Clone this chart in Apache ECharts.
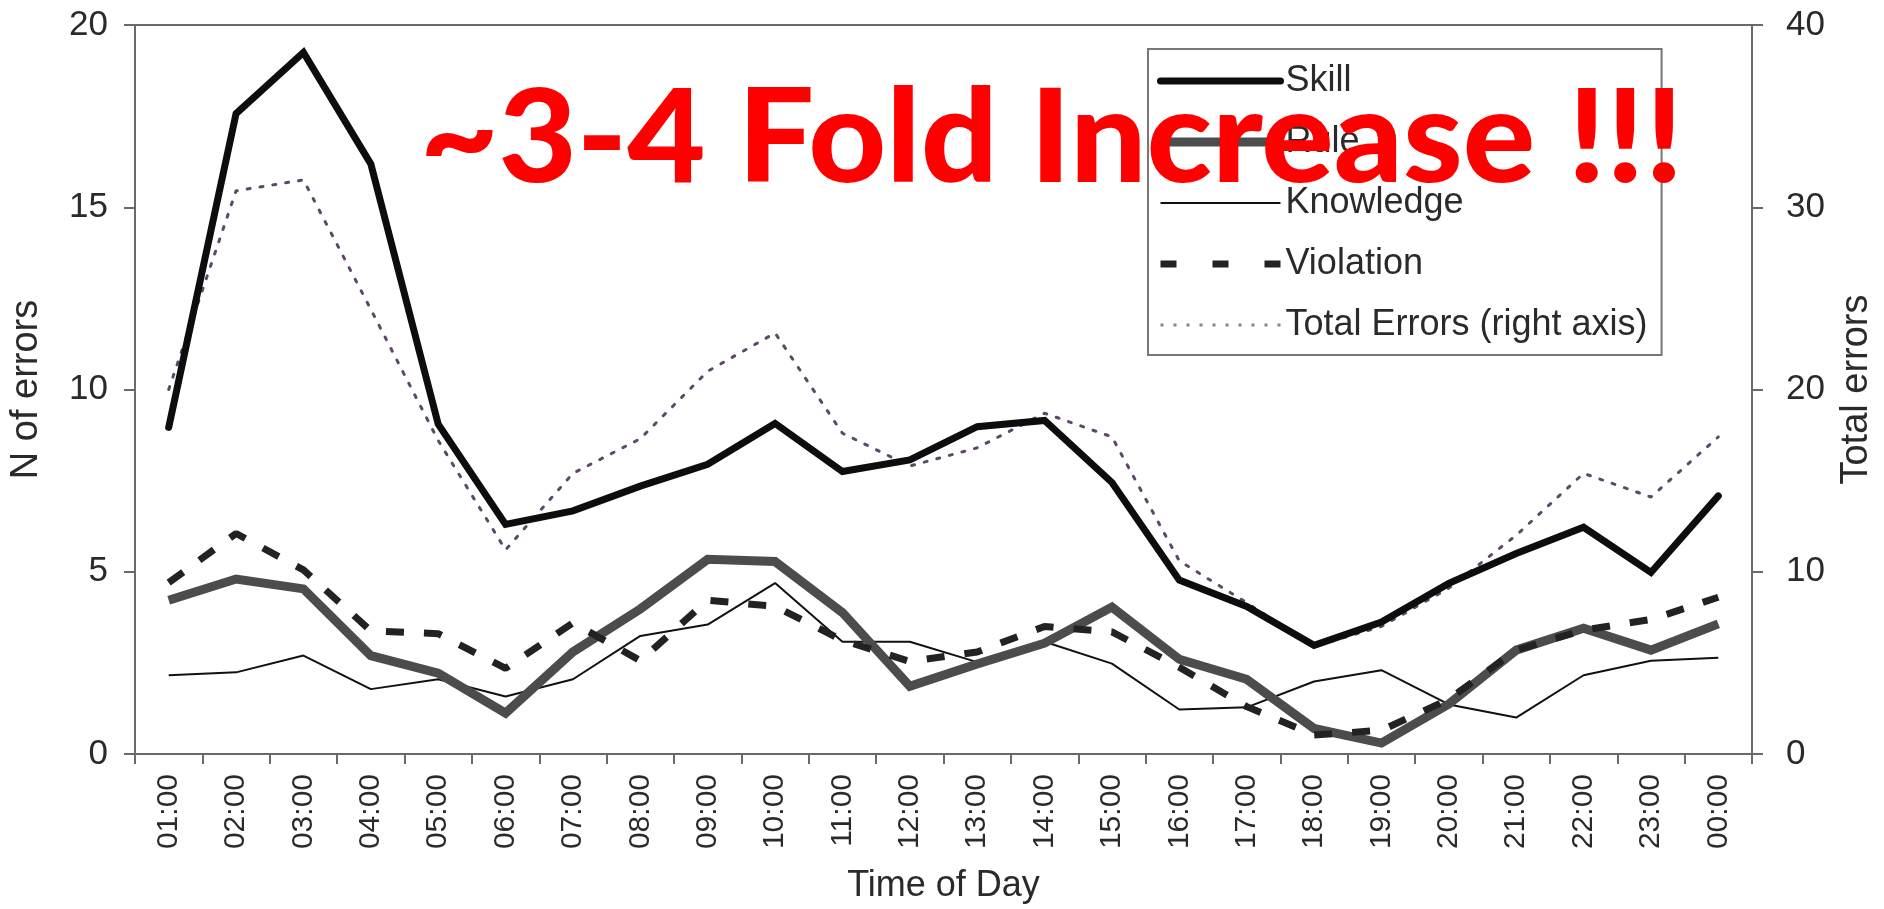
<!DOCTYPE html>
<html>
<head>
<meta charset="utf-8">
<title>Errors by time of day</title>
<script src="https://cdn.jsdelivr.net/npm/echarts@6/dist/echarts.min.js"></script>
<style>
  html, body { margin: 0; padding: 0; background: #ffffff; }
  #chart { width: 1884px; height: 909px; }
</style>
</head>
<body>
<div id="chart"></div>
<script>
// Hour of day (category axis)
const hours = ['01:00','02:00','03:00','04:00','05:00','06:00','07:00','08:00','09:00','10:00','11:00','12:00',
               '13:00','14:00','15:00','16:00','17:00','18:00','19:00','20:00','21:00','22:00','23:00','00:00'];

// Error counts per hour, left axis
const skill     = [8.96, 17.57, 19.25, 16.19, 9.05, 6.3, 6.67, 7.35, 7.95, 9.07, 7.75, 8.07,
                   8.98, 9.15, 7.45, 4.77, 4.05, 2.98, 3.62, 4.68, 5.5, 6.22, 4.98, 7.08];
const rule      = [4.22, 4.8, 4.53, 2.7, 2.22, 1.12, 2.8, 3.98, 5.34, 5.28, 3.88, 1.86,
                   2.47, 3.04, 4.03, 2.6, 2.05, 0.7, 0.3, 1.37, 2.85, 3.45, 2.85, 3.57];
const knowledge = [2.16, 2.24, 2.7, 1.78, 2.05, 1.58, 2.05, 3.24, 3.55, 4.69, 3.08, 3.08,
                   2.52, 3.08, 2.48, 1.22, 1.28, 1.99, 2.3, 1.36, 1.0, 2.16, 2.56, 2.64];
const violation = [4.7, 6.05, 5.05, 3.38, 3.3, 2.35, 3.6, 2.56, 4.22, 4.05, 3.12, 2.54,
                   2.8, 3.5, 3.35, 2.38, 1.3, 0.52, 0.65, 1.5, 2.85, 3.4, 3.69, 4.3];

// Total errors per hour, right axis
const totalErrors = [20.0, 30.9, 31.5, 24.4, 17.2, 11.2, 15.4, 17.3, 21.0, 23.1, 17.6, 15.8,
                     16.8, 18.7, 17.4, 10.6, 8.3, 5.9, 7.0, 9.1, 12.0, 15.4, 14.1, 17.4];

// Axis ticks
const leftTicks  = { min: 0, max: 20, interval: 5 };
const rightTicks = { min: 0, max: 40, interval: 10 };

const FONT = '"Liberation Sans", Arial, Helvetica, sans-serif';
const TEXT = '#2a2a2a';
const AXIS = '#6a6a6a';

// Line styles shared by the series and their legend entries
const styles = {
  'Skill':      { color: '#0d0d0d', width: 7, type: 'solid', join: 'miter', cap: 'round' },
  'Rule':       { color: '#4c4c4c', width: 9, type: 'solid', join: 'miter' },
  'Knowledge':  { color: '#111111', width: 2, type: 'solid' },
  'Violation':  { color: '#222222', width: 7, type: [18, 20] },
  'Total Errors (right axis)': { color: '#5e4868', width: 3, type: [3, 10], cap: 'round' }
};

const chart = echarts.init(document.getElementById('chart'), null, { renderer: 'canvas' });

function lineSeries(name, data, yAxisIndex, z) {
  const style = styles[name];
  return {
    name: name,
    type: 'line',
    data: data,
    yAxisIndex: yAxisIndex,
    symbol: 'none',
    smooth: false,
    z: z,
    lineStyle: style,
    itemStyle: { color: style.color },
    emphasis: { disabled: true },
    animation: false
  };
}

const legendNames = ['Skill', 'Rule', 'Knowledge', 'Violation', 'Total Errors (right axis)'];
const legendData = legendNames.map(function (n) {
  const s = styles[n];
  return {
    name: n,
    itemStyle: { opacity: 0 },
    lineStyle: {
      color: n === 'Total Errors (right axis)' ? '#8a8090' : s.color,
      width: s.width,
      type: n === 'Violation' ? [16, 36] : s.type,
      cap: n === 'Skill' ? 'round' : 'butt',
      opacity: 1
    }
  };
});

chart.setOption({
  backgroundColor: '#ffffff',
  animation: false,
  textStyle: { fontFamily: FONT, color: TEXT },
  grid: {
    left: 133, right: 131, top: 25, bottom: 153,
    show: true, borderColor: AXIS, borderWidth: 2, backgroundColor: 'transparent'
  },
  legend: {
    orient: 'vertical',
    left: 1148, top: 49,
    padding: [14, 14, 12, 8],
    itemWidth: 120, itemHeight: 14, itemGap: 25,
    backgroundColor: '#ffffff',
    borderColor: '#777777', borderWidth: 2,
    textStyle: { fontFamily: FONT, fontSize: 36, color: TEXT },
    selectedMode: false,
    data: legendData
  },
  xAxis: {
    type: 'category',
    data: hours,
    boundaryGap: true,
    name: 'Time of Day',
    nameLocation: 'middle',
    nameGap: 114,
    nameTextStyle: { fontFamily: FONT, fontSize: 36, color: TEXT },
    axisLine: { lineStyle: { color: AXIS, width: 2 } },
    axisTick: { show: true, length: 10, lineStyle: { color: AXIS, width: 2 } },
    axisLabel: { rotate: 90, margin: 20, fontFamily: FONT, fontSize: 30, color: TEXT, interval: 0 },
    splitLine: { show: false }
  },
  yAxis: [
    {
      type: 'value',
      position: 'left',
      min: leftTicks.min, max: leftTicks.max, interval: leftTicks.interval,
      name: 'N of errors',
      nameLocation: 'middle',
      nameRotate: 90,
      nameGap: 89,
      nameTextStyle: { fontFamily: FONT, fontSize: 38, color: TEXT },
      axisLine: { show: true, lineStyle: { color: AXIS, width: 2 } },
      axisTick: { show: true, length: 11, lineStyle: { color: AXIS, width: 2 } },
      axisLabel: { margin: 27, fontFamily: FONT, fontSize: 35, color: TEXT },
      splitLine: { show: false }
    },
    {
      type: 'value',
      position: 'right',
      min: rightTicks.min, max: rightTicks.max, interval: rightTicks.interval,
      name: 'Total errors',
      nameLocation: 'middle',
      nameRotate: 90,
      nameGap: 86,
      nameTextStyle: { fontFamily: FONT, fontSize: 38, color: TEXT },
      axisLine: { show: true, lineStyle: { color: AXIS, width: 2 } },
      axisTick: { show: true, length: 11, lineStyle: { color: AXIS, width: 2 } },
      axisLabel: { margin: 34, fontFamily: FONT, fontSize: 35, color: TEXT },
      splitLine: { show: false }
    }
  ],
  series: [
    lineSeries('Skill', skill, 0, 5),
    lineSeries('Rule', rule, 0, 4),
    lineSeries('Knowledge', knowledge, 0, 3),
    lineSeries('Violation', violation, 0, 6),
    lineSeries('Total Errors (right axis)', totalErrors, 1, 2)
  ],
  graphic: [
    {
      type: 'text',
      left: 420,
      top: 75,
      z: 100,
      silent: true,
      scaleX: 1.04,
      style: {
        text: '~3-4 Fold Increase !!!',
        fill: '#ff0000',
        font: '900 130px Lato, "Open Sans", sans-serif'
      }
    }
  ]
});
</script>
</body>
</html>
